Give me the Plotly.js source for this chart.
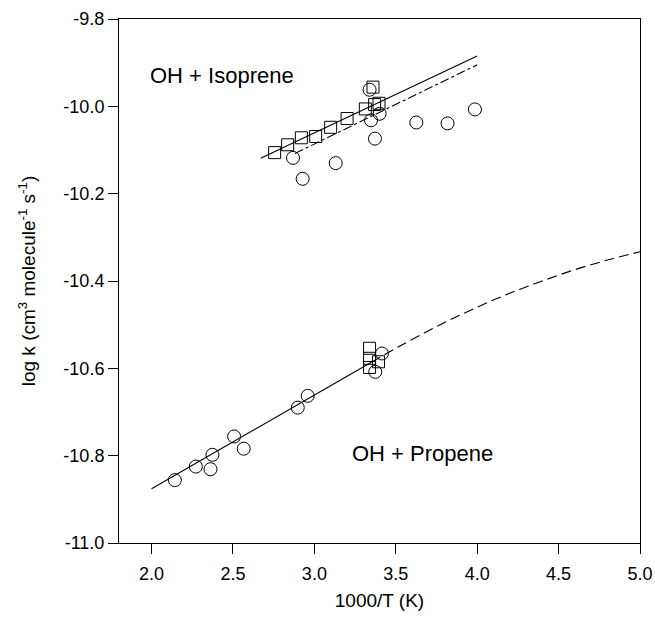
<!DOCTYPE html>
<html>
<head>
<meta charset="utf-8">
<script src="https://cdn.plot.ly/plotly-3.0.1.min.js"></script>
<style>html,body{margin:0;padding:0;background:#fff;}#chart{width:655px;height:620px;}</style>
</head>
<body>
<div id="chart"></div>
<script>
// OH + Isoprene data
const isoSqX = [2.756, 2.836, 2.920, 3.008, 3.100, 3.201, 3.313, 3.370, 3.397, 3.360];
const isoSqY = [-10.106, -10.088, -10.072, -10.069, -10.048, -10.028, -10.006, -9.996, -9.993, -9.956];
const isoCircX = [2.869, 2.928, 3.131, 3.348, 3.372, 3.339, 3.401, 3.626, 3.818, 3.986];
const isoCircY = [-10.118, -10.166, -10.130, -10.032, -10.074, -9.962, -10.017, -10.037, -10.039, -10.007];
const isoFitX = [2.67, 4.0];
const isoFitY = [-10.119, -9.885];
const isoFit2X = [2.88, 4.0];
const isoFit2Y = [-10.108, -9.905];

// OH + Propene data
const proCircX = [2.143, 2.272, 2.374, 2.362, 2.507, 2.566, 2.898, 2.959, 3.415, 3.374];
const proCircY = [-10.856, -10.825, -10.798, -10.831, -10.756, -10.784, -10.690, -10.663, -10.566, -10.608];
const proSqX = [3.339, 3.339, 3.339, 3.394];
const proSqY = [-10.554, -10.577, -10.598, -10.585];
const proFitX = [2.0, 3.35];
const proFitY = [-10.876, -10.586];
const proExtX = [3.35, 3.5, 3.6, 3.8, 4.0, 4.2, 4.4, 4.6, 4.8, 5.0];
const proExtY = [-10.586, -10.554, -10.534, -10.495, -10.460, -10.428, -10.400, -10.374, -10.352, -10.333];

// Axis ticks
const xTickVals = [2.0, 2.5, 3.0, 3.5, 4.0, 4.5, 5.0];
const xTickText = ["2.0", "2.5", "3.0", "3.5", "4.0", "4.5", "5.0"];
const yTickVals = [-9.8, -10.0, -10.2, -10.4, -10.6, -10.8, -11.0];
const yTickText = ["-9.8", "-10.0", "-10.2", "-10.4", "-10.6", "-10.8", "-11.0"];

const FONT = "Liberation Sans, Arial, sans-serif";
const circ = {symbol: "circle-open", size: 13, color: "#000", line: {width: 1, color: "#000"}};
const sq = {symbol: "square-open", size: 12, color: "#000", line: {width: 1, color: "#000"}};

const traces = [
  {x: isoFitX, y: isoFitY, mode: "lines", line: {color: "#000", width: 1.1}},
  {x: isoFit2X, y: isoFit2Y, mode: "lines", line: {color: "#000", width: 1.1, dash: "dashdot"}},
  {x: isoCircX, y: isoCircY, mode: "markers", marker: circ},
  {x: isoSqX, y: isoSqY, mode: "markers", marker: sq},
  {x: proFitX, y: proFitY, mode: "lines", line: {color: "#000", width: 1.1}},
  {x: proExtX, y: proExtY, mode: "lines", line: {color: "#000", width: 1.1, dash: "10px,5px", shape: "spline"}},
  {x: proCircX, y: proCircY, mode: "markers", marker: circ},
  {x: proSqX, y: proSqY, mode: "markers", marker: sq}
];

const layout = {
  width: 655, height: 620,
  margin: {l: 119, r: 15, t: 19, b: 77},
  paper_bgcolor: "#fff", plot_bgcolor: "#fff",
  showlegend: false,
  font: {family: FONT, color: "#000", size: 18},
  xaxis: {
    range: [1.8, 5.0], tickvals: xTickVals, ticktext: xTickText,
    ticks: "outside", ticklen: 10, tickwidth: 1, tickcolor: "#000",
    ticklabelstandoff: 4,
    showline: true, linecolor: "#000", linewidth: 1, mirror: true,
    showgrid: false, zeroline: false,
    tickfont: {size: 18, family: FONT},
    title: {text: "1000/T (K)", font: {size: 19, family: FONT}, standoff: 11}
  },
  yaxis: {
    range: [-11.0, -9.8], tickvals: yTickVals, ticktext: yTickText,
    ticks: "outside", ticklen: 10, tickwidth: 1, tickcolor: "#000",
    showline: true, linecolor: "#000", linewidth: 1, mirror: true,
    showgrid: false, zeroline: false,
    tickfont: {size: 18, family: FONT},
    title: {text: "log k (cm<sup>3</sup> molecule<sup>-1</sup> s<sup>-1</sup>)", font: {size: 19, family: FONT}, standoff: 22}
  },
  annotations: [
    {x: 2.890, y: -9.93, xref: "x", yref: "y", text: "OH + Isoprene", showarrow: false,
     xanchor: "right", yanchor: "middle", font: {size: 22, family: FONT, color: "#000"}},
    {x: 3.221, y: -10.796, xref: "x", yref: "y", text: "OH + Propene", showarrow: false,
     xanchor: "left", yanchor: "middle", font: {size: 22, family: FONT, color: "#000"}}
  ]
};

Plotly.newPlot("chart", traces, layout, {staticPlot: true, displayModeBar: false});
</script>
</body>
</html>
